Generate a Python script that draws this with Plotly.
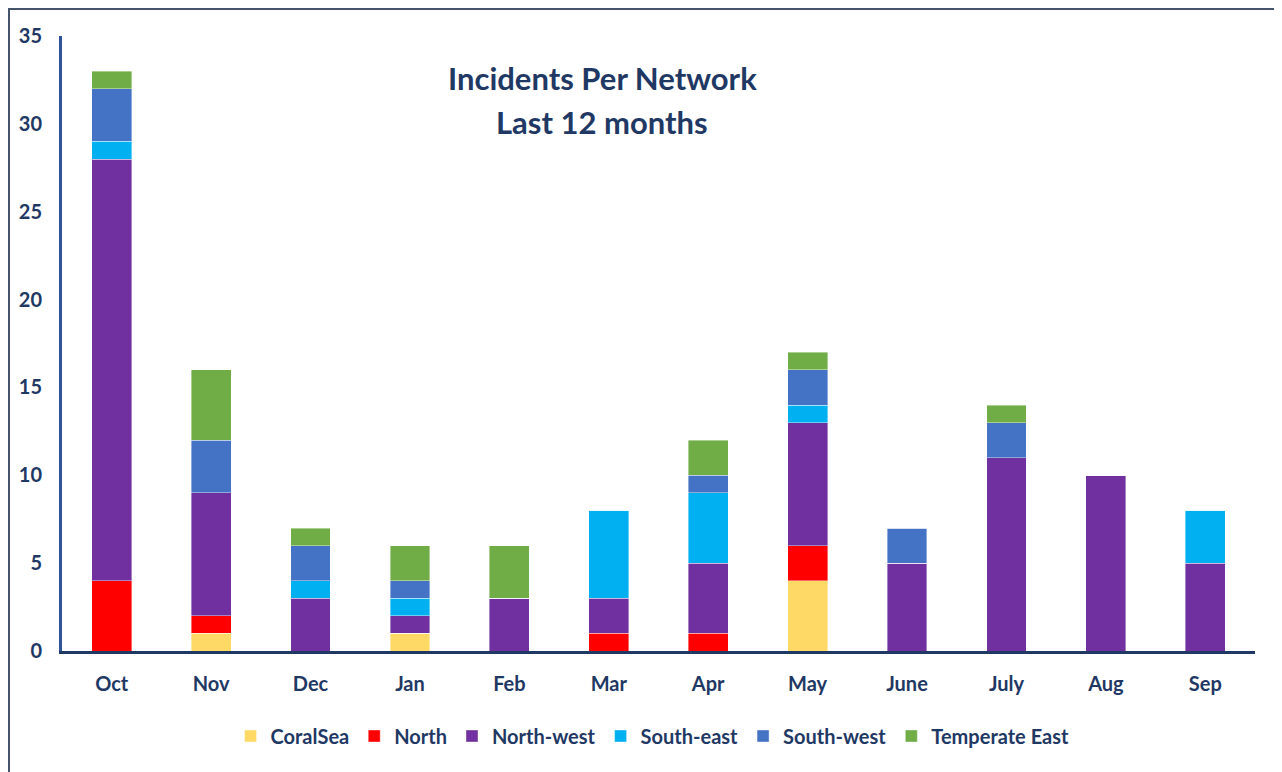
import plotly.graph_objects as go

months = ["Oct", "Nov", "Dec", "Jan", "Feb", "Mar", "Apr", "May", "June", "July", "Aug", "Sep"]
coral_sea = [0, 1, 0, 1, 0, 0, 0, 4, 0, 0, 0, 0]
north = [4, 1, 0, 0, 0, 1, 1, 2, 0, 0, 0, 0]
north_west = [24, 7, 3, 1, 3, 2, 4, 7, 5, 11, 10, 5]
south_east = [1, 0, 1, 1, 0, 5, 4, 1, 0, 0, 0, 3]
south_west = [3, 3, 2, 1, 0, 0, 1, 2, 2, 2, 0, 0]
temperate_east = [1, 4, 1, 2, 3, 0, 2, 1, 0, 1, 0, 0]

series = [
    ("CoralSea", coral_sea, "#FFD966"),
    ("North", north, "#FF0000"),
    ("North-west", north_west, "#7030A0"),
    ("South-east", south_east, "#00B0F0"),
    ("South-west", south_west, "#4472C4"),
    ("Temperate East", temperate_east, "#70AD47"),
]

NAVY = "#1F3864"
FONT = "Lato"

W, H = 1274, 764
L, R, T, B = 54, 27, 28, 121
PW, PH = W - L - R, H - T - B

fig = go.Figure()
for name, vals, color in series:
    fig.add_trace(go.Bar(
        name=name, x=months, y=vals,
        marker=dict(color=color, line=dict(color="rgba(255,255,255,0.5)", width=0.8)),
    ))

fig.update_layout(
    barmode="stack",
    bargap=0.6,
    width=W, height=H,
    margin=dict(l=L, r=R, t=T, b=B),
    paper_bgcolor="white",
    plot_bgcolor="white",
    font=dict(family=FONT, color=NAVY, size=18),
    showlegend=True,
    legend=dict(
        orientation="h", x=0.495, xanchor="center", y=-(736 - 651) / PH, yanchor="middle",
        font=dict(family=FONT, size=20, color=NAVY, weight="bold"),
        itemwidth=30, traceorder="normal",
    ),
    xaxis=dict(
        showgrid=False, showline=True, linecolor=NAVY, linewidth=3,
        ticks="", tickfont=dict(family=FONT, size=20, color=NAVY, weight="bold"),
        ticklabelstandoff=13, fixedrange=True,
    ),
    yaxis=dict(
        range=[0, 35], dtick=5, showgrid=False, zeroline=False,
        showline=True, linecolor="#2F5597", linewidth=3,
        ticks="", tickfont=dict(family=FONT, size=20, color=NAVY, weight="bold"),
        ticklabelstandoff=13,
    ),
    shapes=[dict(
        type="rect", xref="paper", yref="paper",
        x0=-(L - 1) / PW, x1=1 + (R - 2) / PW, y0=-(B + 20) / PH, y1=1 + (T - 1) / PH,
        line=dict(color="#44546A", width=2), fillcolor="rgba(0,0,0,0)", layer="below",
    )],
    annotations=[
        dict(text="Incidents Per Network", xref="paper", yref="paper",
             x=(602 - 62) / PW, y=(651 - 78) / PH, xanchor="center", yanchor="middle",
             showarrow=False, font=dict(family=FONT, size=31, color=NAVY, weight="bold")),
        dict(text="Last 12 months", xref="paper", yref="paper",
             x=(602 - 62) / PW, y=(651 - 122) / PH, xanchor="center", yanchor="middle",
             showarrow=False, font=dict(family=FONT, size=31, color=NAVY, weight="bold")),
    ],
)

fig.write_html("out.html")
